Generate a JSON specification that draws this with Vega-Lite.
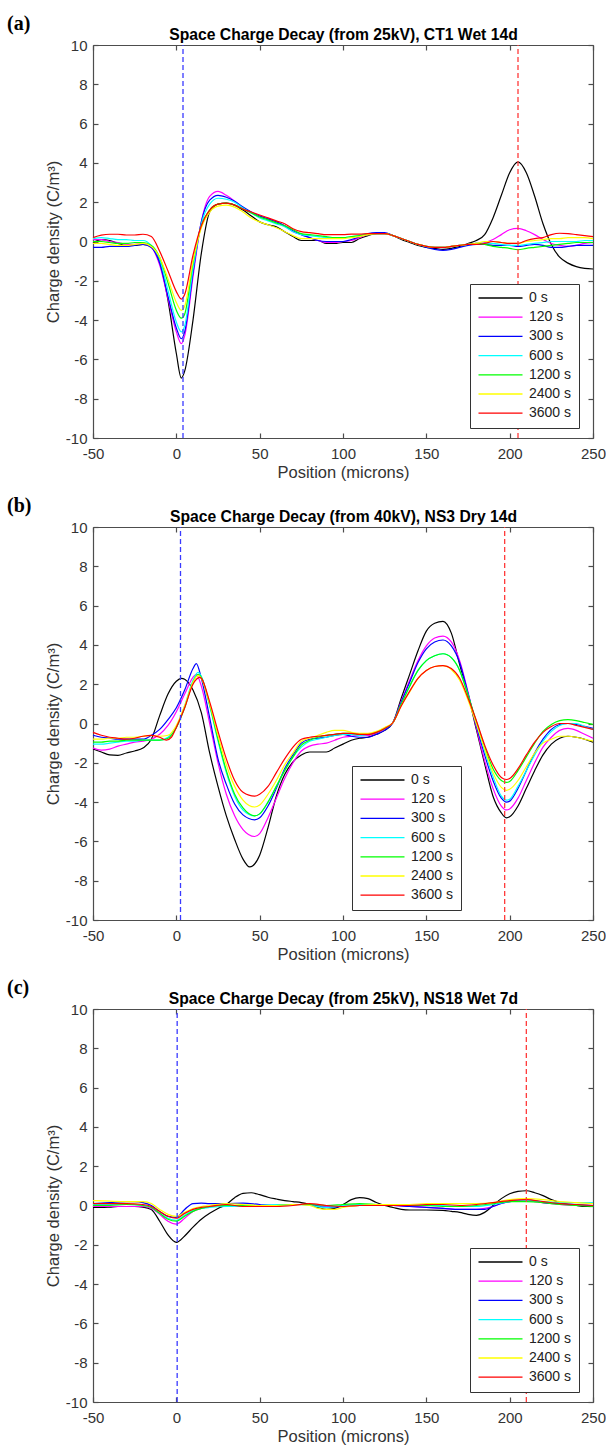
{
"$schema": "https://vega.github.io/schema/vega-lite/v6.json",
"background": "white",
"padding": {"left": 7, "top": 14, "right": 0, "bottom": 2},
"spacing": 89,
"bounds": "flush",
"config": {
  "font": "Liberation Sans",
  "view": {"stroke": null},
  "axis": {"grid": false, "labelFlush": false, "labelExpr": "replace(datum.label, '−', '-')", "domainColor": "#4d4d4d", "domainWidth": 1.2, "tickColor": "#4d4d4d", "tickWidth": 1.2, "tickSize": -5, "labelFont": "Liberation Sans", "labelFontSize": 15, "labelColor": "#333333", "titleFont": "Liberation Sans", "titleFontSize": 16.5, "titleFontWeight": "normal", "titleColor": "#333333"},
  "legend": {"orient": "none", "direction": "vertical", "fillColor": "white", "strokeColor": "#333333", "padding": 7, "symbolType": "M-1,0H7", "symbolSize": 121, "symbolStrokeWidth": 1.3, "labelFont": "Liberation Sans", "labelFontSize": 14, "labelColor": "#222222", "labelOffset": 38, "rowPadding": 5.2},
  "title": {"font": "Liberation Serif", "fontSize": 20, "fontWeight": "bold", "color": "black", "anchor": "start", "frame": "group", "dx": -86, "dy": 12, "offset": 0}
},
"datasets": {
"ea": [{"pos": 4, "e": "L"}, {"pos": 205, "e": "R"}],
"eb": [{"pos": 2.5, "e": "L"}, {"pos": 197, "e": "R"}],
"ec": [{"pos": 0.5, "e": "L"}, {"pos": 210, "e": "R"}],
"a": [
{"s":"0 s","x":-50,"y":-0.05},{"s":"0 s","x":-45,"y":0.1},{"s":"0 s","x":-40,"y":0.05},{"s":"0 s","x":-35,"y":-0.1},{"s":"0 s","x":-30,"y":-0.2},{"s":"0 s","x":-25,"y":-0.2},{"s":"0 s","x":-20,"y":-0.15},{"s":"0 s","x":-15,"y":-0.25},{"s":"0 s","x":-10,"y":-1.0},{"s":"0 s","x":-5,"y":-3.0},{"s":"0 s","x":0,"y":-5.7},{"s":"0 s","x":3,"y":-6.95},{"s":"0 s","x":5,"y":-6.6},{"s":"0 s","x":10,"y":-4.0},{"s":"0 s","x":15,"y":-0.6},{"s":"0 s","x":20,"y":1.5},{"s":"0 s","x":25,"y":1.9},{"s":"0 s","x":30,"y":1.95},{"s":"0 s","x":35,"y":1.85},{"s":"0 s","x":40,"y":1.6},{"s":"0 s","x":45,"y":1.3},{"s":"0 s","x":50,"y":1.0},{"s":"0 s","x":55,"y":0.85},{"s":"0 s","x":60,"y":0.75},{"s":"0 s","x":65,"y":0.5},{"s":"0 s","x":70,"y":0.25},{"s":"0 s","x":75,"y":0.05},{"s":"0 s","x":80,"y":0.05},{"s":"0 s","x":85,"y":0.05},{"s":"0 s","x":90,"y":-0.1},{"s":"0 s","x":95,"y":-0.1},{"s":"0 s","x":100,"y":-0.05},{"s":"0 s","x":105,"y":-0.05},{"s":"0 s","x":110,"y":0.15},{"s":"0 s","x":115,"y":0.3},{"s":"0 s","x":120,"y":0.4},{"s":"0 s","x":125,"y":0.4},{"s":"0 s","x":130,"y":0.3},{"s":"0 s","x":135,"y":0.1},{"s":"0 s","x":140,"y":-0.05},{"s":"0 s","x":145,"y":-0.2},{"s":"0 s","x":150,"y":-0.3},{"s":"0 s","x":155,"y":-0.35},{"s":"0 s","x":160,"y":-0.4},{"s":"0 s","x":165,"y":-0.35},{"s":"0 s","x":170,"y":-0.25},{"s":"0 s","x":175,"y":-0.1},{"s":"0 s","x":180,"y":0.05},{"s":"0 s","x":185,"y":0.35},{"s":"0 s","x":190,"y":1.2},{"s":"0 s","x":195,"y":2.35},{"s":"0 s","x":200,"y":3.5},{"s":"0 s","x":205,"y":4.05},{"s":"0 s","x":210,"y":3.5},{"s":"0 s","x":215,"y":2.3},{"s":"0 s","x":220,"y":0.9},{"s":"0 s","x":225,"y":-0.15},{"s":"0 s","x":230,"y":-0.8},{"s":"0 s","x":235,"y":-1.1},{"s":"0 s","x":240,"y":-1.28},{"s":"0 s","x":245,"y":-1.37},{"s":"0 s","x":250,"y":-1.4},
{"s":"120 s","x":-50,"y":0.1},{"s":"120 s","x":-45,"y":0.1},{"s":"120 s","x":-40,"y":0.0},{"s":"120 s","x":-35,"y":-0.05},{"s":"120 s","x":-30,"y":-0.15},{"s":"120 s","x":-25,"y":-0.15},{"s":"120 s","x":-20,"y":-0.1},{"s":"120 s","x":-15,"y":-0.3},{"s":"120 s","x":-10,"y":-1.2},{"s":"120 s","x":-5,"y":-2.9},{"s":"120 s","x":0,"y":-4.6},{"s":"120 s","x":3,"y":-5.2},{"s":"120 s","x":5,"y":-4.8},{"s":"120 s","x":10,"y":-1.8},{"s":"120 s","x":15,"y":1.0},{"s":"120 s","x":20,"y":2.3},{"s":"120 s","x":25,"y":2.55},{"s":"120 s","x":30,"y":2.35},{"s":"120 s","x":35,"y":2.05},{"s":"120 s","x":40,"y":1.7},{"s":"120 s","x":45,"y":1.45},{"s":"120 s","x":50,"y":1.3},{"s":"120 s","x":55,"y":1.15},{"s":"120 s","x":60,"y":1.0},{"s":"120 s","x":65,"y":0.8},{"s":"120 s","x":70,"y":0.5},{"s":"120 s","x":75,"y":0.35},{"s":"120 s","x":80,"y":0.2},{"s":"120 s","x":85,"y":0.05},{"s":"120 s","x":90,"y":-0.05},{"s":"120 s","x":95,"y":-0.05},{"s":"120 s","x":100,"y":0.0},{"s":"120 s","x":105,"y":0.05},{"s":"120 s","x":110,"y":0.2},{"s":"120 s","x":115,"y":0.35},{"s":"120 s","x":120,"y":0.4},{"s":"120 s","x":125,"y":0.4},{"s":"120 s","x":130,"y":0.3},{"s":"120 s","x":135,"y":0.15},{"s":"120 s","x":140,"y":0.0},{"s":"120 s","x":145,"y":-0.15},{"s":"120 s","x":150,"y":-0.25},{"s":"120 s","x":155,"y":-0.3},{"s":"120 s","x":160,"y":-0.3},{"s":"120 s","x":165,"y":-0.25},{"s":"120 s","x":170,"y":-0.2},{"s":"120 s","x":175,"y":-0.15},{"s":"120 s","x":180,"y":-0.1},{"s":"120 s","x":185,"y":-0.05},{"s":"120 s","x":190,"y":0.1},{"s":"120 s","x":195,"y":0.35},{"s":"120 s","x":200,"y":0.6},{"s":"120 s","x":205,"y":0.67},{"s":"120 s","x":210,"y":0.55},{"s":"120 s","x":215,"y":0.35},{"s":"120 s","x":220,"y":0.1},{"s":"120 s","x":225,"y":-0.1},{"s":"120 s","x":230,"y":-0.2},{"s":"120 s","x":235,"y":-0.25},{"s":"120 s","x":240,"y":-0.2},{"s":"120 s","x":245,"y":-0.1},{"s":"120 s","x":250,"y":-0.05},
{"s":"300 s","x":-50,"y":-0.3},{"s":"300 s","x":-45,"y":-0.3},{"s":"300 s","x":-40,"y":-0.25},{"s":"300 s","x":-35,"y":-0.25},{"s":"300 s","x":-30,"y":-0.25},{"s":"300 s","x":-25,"y":-0.2},{"s":"300 s","x":-20,"y":-0.15},{"s":"300 s","x":-15,"y":-0.3},{"s":"300 s","x":-10,"y":-1.1},{"s":"300 s","x":-5,"y":-2.8},{"s":"300 s","x":0,"y":-4.4},{"s":"300 s","x":3,"y":-4.95},{"s":"300 s","x":5,"y":-4.6},{"s":"300 s","x":10,"y":-1.6},{"s":"300 s","x":15,"y":1.0},{"s":"300 s","x":20,"y":2.1},{"s":"300 s","x":25,"y":2.35},{"s":"300 s","x":30,"y":2.25},{"s":"300 s","x":35,"y":2.05},{"s":"300 s","x":40,"y":1.75},{"s":"300 s","x":45,"y":1.5},{"s":"300 s","x":50,"y":1.3},{"s":"300 s","x":55,"y":1.15},{"s":"300 s","x":60,"y":1.0},{"s":"300 s","x":65,"y":0.8},{"s":"300 s","x":70,"y":0.55},{"s":"300 s","x":75,"y":0.35},{"s":"300 s","x":80,"y":0.2},{"s":"300 s","x":85,"y":0.05},{"s":"300 s","x":90,"y":0.0},{"s":"300 s","x":95,"y":0.0},{"s":"300 s","x":100,"y":0.0},{"s":"300 s","x":105,"y":0.1},{"s":"300 s","x":110,"y":0.25},{"s":"300 s","x":115,"y":0.4},{"s":"300 s","x":120,"y":0.45},{"s":"300 s","x":125,"y":0.45},{"s":"300 s","x":130,"y":0.3},{"s":"300 s","x":135,"y":0.15},{"s":"300 s","x":140,"y":0.0},{"s":"300 s","x":145,"y":-0.15},{"s":"300 s","x":150,"y":-0.3},{"s":"300 s","x":155,"y":-0.4},{"s":"300 s","x":160,"y":-0.45},{"s":"300 s","x":165,"y":-0.4},{"s":"300 s","x":170,"y":-0.3},{"s":"300 s","x":175,"y":-0.2},{"s":"300 s","x":180,"y":-0.15},{"s":"300 s","x":185,"y":-0.15},{"s":"300 s","x":190,"y":-0.2},{"s":"300 s","x":195,"y":-0.2},{"s":"300 s","x":200,"y":-0.2},{"s":"300 s","x":205,"y":-0.25},{"s":"300 s","x":210,"y":-0.2},{"s":"300 s","x":215,"y":-0.15},{"s":"300 s","x":220,"y":-0.2},{"s":"300 s","x":225,"y":-0.3},{"s":"300 s","x":230,"y":-0.3},{"s":"300 s","x":235,"y":-0.25},{"s":"300 s","x":240,"y":-0.2},{"s":"300 s","x":245,"y":-0.2},{"s":"300 s","x":250,"y":-0.2},
{"s":"600 s","x":-50,"y":0.15},{"s":"600 s","x":-45,"y":0.2},{"s":"600 s","x":-40,"y":0.15},{"s":"600 s","x":-35,"y":0.1},{"s":"600 s","x":-30,"y":0.1},{"s":"600 s","x":-25,"y":0.05},{"s":"600 s","x":-20,"y":0.05},{"s":"600 s","x":-15,"y":-0.2},{"s":"600 s","x":-10,"y":-0.9},{"s":"600 s","x":-5,"y":-2.5},{"s":"600 s","x":0,"y":-4.1},{"s":"600 s","x":3,"y":-4.6},{"s":"600 s","x":5,"y":-4.3},{"s":"600 s","x":10,"y":-1.4},{"s":"600 s","x":15,"y":0.9},{"s":"600 s","x":20,"y":1.9},{"s":"600 s","x":25,"y":2.2},{"s":"600 s","x":30,"y":2.15},{"s":"600 s","x":35,"y":2.0},{"s":"600 s","x":40,"y":1.7},{"s":"600 s","x":45,"y":1.45},{"s":"600 s","x":50,"y":1.2},{"s":"600 s","x":55,"y":1.05},{"s":"600 s","x":60,"y":0.9},{"s":"600 s","x":65,"y":0.75},{"s":"600 s","x":70,"y":0.5},{"s":"600 s","x":75,"y":0.35},{"s":"600 s","x":80,"y":0.3},{"s":"600 s","x":85,"y":0.25},{"s":"600 s","x":90,"y":0.2},{"s":"600 s","x":95,"y":0.2},{"s":"600 s","x":100,"y":0.2},{"s":"600 s","x":105,"y":0.25},{"s":"600 s","x":110,"y":0.3},{"s":"600 s","x":115,"y":0.4},{"s":"600 s","x":120,"y":0.4},{"s":"600 s","x":125,"y":0.4},{"s":"600 s","x":130,"y":0.3},{"s":"600 s","x":135,"y":0.15},{"s":"600 s","x":140,"y":0.0},{"s":"600 s","x":145,"y":-0.15},{"s":"600 s","x":150,"y":-0.25},{"s":"600 s","x":155,"y":-0.3},{"s":"600 s","x":160,"y":-0.3},{"s":"600 s","x":165,"y":-0.25},{"s":"600 s","x":170,"y":-0.2},{"s":"600 s","x":175,"y":-0.15},{"s":"600 s","x":180,"y":-0.1},{"s":"600 s","x":185,"y":-0.1},{"s":"600 s","x":190,"y":-0.1},{"s":"600 s","x":195,"y":-0.15},{"s":"600 s","x":200,"y":-0.2},{"s":"600 s","x":205,"y":-0.2},{"s":"600 s","x":210,"y":-0.15},{"s":"600 s","x":215,"y":-0.1},{"s":"600 s","x":220,"y":-0.05},{"s":"600 s","x":225,"y":0.0},{"s":"600 s","x":230,"y":0.0},{"s":"600 s","x":235,"y":0.0},{"s":"600 s","x":240,"y":0.0},{"s":"600 s","x":245,"y":0.05},{"s":"600 s","x":250,"y":0.05},
{"s":"1200 s","x":-50,"y":0.0},{"s":"1200 s","x":-45,"y":0.0},{"s":"1200 s","x":-40,"y":-0.05},{"s":"1200 s","x":-35,"y":-0.1},{"s":"1200 s","x":-30,"y":-0.1},{"s":"1200 s","x":-25,"y":-0.05},{"s":"1200 s","x":-20,"y":-0.05},{"s":"1200 s","x":-15,"y":-0.2},{"s":"1200 s","x":-10,"y":-0.8},{"s":"1200 s","x":-5,"y":-2.1},{"s":"1200 s","x":0,"y":-3.5},{"s":"1200 s","x":3,"y":-3.9},{"s":"1200 s","x":5,"y":-3.7},{"s":"1200 s","x":10,"y":-1.1},{"s":"1200 s","x":15,"y":0.8},{"s":"1200 s","x":20,"y":1.6},{"s":"1200 s","x":25,"y":1.9},{"s":"1200 s","x":30,"y":1.95},{"s":"1200 s","x":35,"y":1.85},{"s":"1200 s","x":40,"y":1.65},{"s":"1200 s","x":45,"y":1.45},{"s":"1200 s","x":50,"y":1.25},{"s":"1200 s","x":55,"y":1.1},{"s":"1200 s","x":60,"y":0.95},{"s":"1200 s","x":65,"y":0.8},{"s":"1200 s","x":70,"y":0.6},{"s":"1200 s","x":75,"y":0.4},{"s":"1200 s","x":80,"y":0.35},{"s":"1200 s","x":85,"y":0.3},{"s":"1200 s","x":90,"y":0.25},{"s":"1200 s","x":95,"y":0.2},{"s":"1200 s","x":100,"y":0.2},{"s":"1200 s","x":105,"y":0.25},{"s":"1200 s","x":110,"y":0.3},{"s":"1200 s","x":115,"y":0.35},{"s":"1200 s","x":120,"y":0.4},{"s":"1200 s","x":125,"y":0.4},{"s":"1200 s","x":130,"y":0.3},{"s":"1200 s","x":135,"y":0.15},{"s":"1200 s","x":140,"y":0.0},{"s":"1200 s","x":145,"y":-0.15},{"s":"1200 s","x":150,"y":-0.25},{"s":"1200 s","x":155,"y":-0.3},{"s":"1200 s","x":160,"y":-0.3},{"s":"1200 s","x":165,"y":-0.25},{"s":"1200 s","x":170,"y":-0.2},{"s":"1200 s","x":175,"y":-0.15},{"s":"1200 s","x":180,"y":-0.1},{"s":"1200 s","x":185,"y":-0.15},{"s":"1200 s","x":190,"y":-0.25},{"s":"1200 s","x":195,"y":-0.3},{"s":"1200 s","x":200,"y":-0.35},{"s":"1200 s","x":205,"y":-0.42},{"s":"1200 s","x":210,"y":-0.35},{"s":"1200 s","x":215,"y":-0.3},{"s":"1200 s","x":220,"y":-0.25},{"s":"1200 s","x":225,"y":-0.2},{"s":"1200 s","x":230,"y":-0.15},{"s":"1200 s","x":235,"y":-0.1},{"s":"1200 s","x":240,"y":-0.05},{"s":"1200 s","x":245,"y":-0.05},{"s":"1200 s","x":250,"y":-0.05},
{"s":"2400 s","x":-50,"y":-0.1},{"s":"2400 s","x":-45,"y":-0.1},{"s":"2400 s","x":-40,"y":-0.15},{"s":"2400 s","x":-35,"y":-0.2},{"s":"2400 s","x":-30,"y":-0.2},{"s":"2400 s","x":-25,"y":-0.15},{"s":"2400 s","x":-20,"y":-0.1},{"s":"2400 s","x":-15,"y":-0.25},{"s":"2400 s","x":-10,"y":-0.8},{"s":"2400 s","x":-5,"y":-1.9},{"s":"2400 s","x":0,"y":-3.1},{"s":"2400 s","x":3,"y":-3.5},{"s":"2400 s","x":5,"y":-3.3},{"s":"2400 s","x":10,"y":-1.0},{"s":"2400 s","x":15,"y":0.7},{"s":"2400 s","x":20,"y":1.5},{"s":"2400 s","x":25,"y":1.8},{"s":"2400 s","x":30,"y":1.85},{"s":"2400 s","x":35,"y":1.75},{"s":"2400 s","x":40,"y":1.5},{"s":"2400 s","x":45,"y":1.2},{"s":"2400 s","x":50,"y":1.0},{"s":"2400 s","x":55,"y":0.85},{"s":"2400 s","x":60,"y":0.7},{"s":"2400 s","x":65,"y":0.5},{"s":"2400 s","x":70,"y":0.3},{"s":"2400 s","x":75,"y":0.15},{"s":"2400 s","x":80,"y":0.15},{"s":"2400 s","x":85,"y":0.15},{"s":"2400 s","x":90,"y":0.15},{"s":"2400 s","x":95,"y":0.15},{"s":"2400 s","x":100,"y":0.15},{"s":"2400 s","x":105,"y":0.2},{"s":"2400 s","x":110,"y":0.25},{"s":"2400 s","x":115,"y":0.35},{"s":"2400 s","x":120,"y":0.4},{"s":"2400 s","x":125,"y":0.4},{"s":"2400 s","x":130,"y":0.3},{"s":"2400 s","x":135,"y":0.15},{"s":"2400 s","x":140,"y":0.0},{"s":"2400 s","x":145,"y":-0.15},{"s":"2400 s","x":150,"y":-0.25},{"s":"2400 s","x":155,"y":-0.3},{"s":"2400 s","x":160,"y":-0.3},{"s":"2400 s","x":165,"y":-0.25},{"s":"2400 s","x":170,"y":-0.2},{"s":"2400 s","x":175,"y":-0.15},{"s":"2400 s","x":180,"y":-0.1},{"s":"2400 s","x":185,"y":0.0},{"s":"2400 s","x":190,"y":0.0},{"s":"2400 s","x":195,"y":-0.05},{"s":"2400 s","x":200,"y":-0.1},{"s":"2400 s","x":205,"y":-0.1},{"s":"2400 s","x":210,"y":0.0},{"s":"2400 s","x":215,"y":0.05},{"s":"2400 s","x":220,"y":0.1},{"s":"2400 s","x":225,"y":0.15},{"s":"2400 s","x":230,"y":0.15},{"s":"2400 s","x":235,"y":0.2},{"s":"2400 s","x":240,"y":0.2},{"s":"2400 s","x":245,"y":0.2},{"s":"2400 s","x":250,"y":0.15},
{"s":"3600 s","x":-50,"y":0.2},{"s":"3600 s","x":-45,"y":0.32},{"s":"3600 s","x":-40,"y":0.37},{"s":"3600 s","x":-35,"y":0.37},{"s":"3600 s","x":-30,"y":0.33},{"s":"3600 s","x":-25,"y":0.33},{"s":"3600 s","x":-20,"y":0.37},{"s":"3600 s","x":-15,"y":0.25},{"s":"3600 s","x":-10,"y":-0.5},{"s":"3600 s","x":-5,"y":-1.5},{"s":"3600 s","x":0,"y":-2.55},{"s":"3600 s","x":3,"y":-2.93},{"s":"3600 s","x":5,"y":-2.7},{"s":"3600 s","x":10,"y":-0.7},{"s":"3600 s","x":15,"y":0.8},{"s":"3600 s","x":20,"y":1.6},{"s":"3600 s","x":25,"y":1.9},{"s":"3600 s","x":30,"y":1.95},{"s":"3600 s","x":35,"y":1.85},{"s":"3600 s","x":40,"y":1.65},{"s":"3600 s","x":45,"y":1.5},{"s":"3600 s","x":50,"y":1.35},{"s":"3600 s","x":55,"y":1.2},{"s":"3600 s","x":60,"y":1.05},{"s":"3600 s","x":65,"y":0.9},{"s":"3600 s","x":70,"y":0.65},{"s":"3600 s","x":75,"y":0.5},{"s":"3600 s","x":80,"y":0.45},{"s":"3600 s","x":85,"y":0.4},{"s":"3600 s","x":90,"y":0.35},{"s":"3600 s","x":95,"y":0.35},{"s":"3600 s","x":100,"y":0.35},{"s":"3600 s","x":105,"y":0.38},{"s":"3600 s","x":110,"y":0.38},{"s":"3600 s","x":115,"y":0.4},{"s":"3600 s","x":120,"y":0.4},{"s":"3600 s","x":125,"y":0.4},{"s":"3600 s","x":130,"y":0.3},{"s":"3600 s","x":135,"y":0.15},{"s":"3600 s","x":140,"y":0.0},{"s":"3600 s","x":145,"y":-0.15},{"s":"3600 s","x":150,"y":-0.25},{"s":"3600 s","x":155,"y":-0.3},{"s":"3600 s","x":160,"y":-0.3},{"s":"3600 s","x":165,"y":-0.25},{"s":"3600 s","x":170,"y":-0.2},{"s":"3600 s","x":175,"y":-0.15},{"s":"3600 s","x":180,"y":-0.15},{"s":"3600 s","x":185,"y":-0.1},{"s":"3600 s","x":190,"y":0.0},{"s":"3600 s","x":195,"y":-0.05},{"s":"3600 s","x":200,"y":-0.1},{"s":"3600 s","x":205,"y":-0.1},{"s":"3600 s","x":210,"y":0.05},{"s":"3600 s","x":215,"y":0.15},{"s":"3600 s","x":220,"y":0.2},{"s":"3600 s","x":225,"y":0.35},{"s":"3600 s","x":230,"y":0.42},{"s":"3600 s","x":235,"y":0.4},{"s":"3600 s","x":240,"y":0.35},{"s":"3600 s","x":245,"y":0.3},{"s":"3600 s","x":250,"y":0.25}
],
"b": [
{"s":"0 s","x":-50,"y":-1.3},{"s":"0 s","x":-45,"y":-1.45},{"s":"0 s","x":-40,"y":-1.6},{"s":"0 s","x":-35,"y":-1.62},{"s":"0 s","x":-30,"y":-1.5},{"s":"0 s","x":-25,"y":-1.4},{"s":"0 s","x":-20,"y":-1.25},{"s":"0 s","x":-15,"y":-0.8},{"s":"0 s","x":-10,"y":0.4},{"s":"0 s","x":-5,"y":1.5},{"s":"0 s","x":0,"y":2.15},{"s":"0 s","x":3,"y":2.3},{"s":"0 s","x":5,"y":2.25},{"s":"0 s","x":10,"y":1.7},{"s":"0 s","x":15,"y":0.55},{"s":"0 s","x":20,"y":-1.5},{"s":"0 s","x":25,"y":-3.2},{"s":"0 s","x":30,"y":-4.7},{"s":"0 s","x":35,"y":-5.9},{"s":"0 s","x":40,"y":-6.9},{"s":"0 s","x":44,"y":-7.3},{"s":"0 s","x":50,"y":-6.7},{"s":"0 s","x":55,"y":-5.3},{"s":"0 s","x":60,"y":-3.7},{"s":"0 s","x":65,"y":-2.6},{"s":"0 s","x":70,"y":-1.95},{"s":"0 s","x":75,"y":-1.6},{"s":"0 s","x":80,"y":-1.45},{"s":"0 s","x":85,"y":-1.45},{"s":"0 s","x":90,"y":-1.45},{"s":"0 s","x":95,"y":-1.25},{"s":"0 s","x":100,"y":-1.05},{"s":"0 s","x":105,"y":-0.85},{"s":"0 s","x":110,"y":-0.75},{"s":"0 s","x":115,"y":-0.7},{"s":"0 s","x":120,"y":-0.55},{"s":"0 s","x":125,"y":-0.35},{"s":"0 s","x":130,"y":0.05},{"s":"0 s","x":135,"y":1.3},{"s":"0 s","x":140,"y":2.5},{"s":"0 s","x":145,"y":3.7},{"s":"0 s","x":150,"y":4.7},{"s":"0 s","x":155,"y":5.1},{"s":"0 s","x":160,"y":5.2},{"s":"0 s","x":165,"y":4.6},{"s":"0 s","x":170,"y":3.0},{"s":"0 s","x":175,"y":1.5},{"s":"0 s","x":180,"y":-0.3},{"s":"0 s","x":185,"y":-2.05},{"s":"0 s","x":190,"y":-3.7},{"s":"0 s","x":195,"y":-4.55},{"s":"0 s","x":198,"y":-4.8},{"s":"0 s","x":200,"y":-4.75},{"s":"0 s","x":205,"y":-4.2},{"s":"0 s","x":210,"y":-3.3},{"s":"0 s","x":215,"y":-2.4},{"s":"0 s","x":220,"y":-1.6},{"s":"0 s","x":225,"y":-1.05},{"s":"0 s","x":230,"y":-0.75},{"s":"0 s","x":235,"y":-0.65},{"s":"0 s","x":240,"y":-0.7},{"s":"0 s","x":245,"y":-0.8},{"s":"0 s","x":250,"y":-0.95},
{"s":"120 s","x":-50,"y":-1.25},{"s":"120 s","x":-45,"y":-1.35},{"s":"120 s","x":-40,"y":-1.3},{"s":"120 s","x":-35,"y":-1.15},{"s":"120 s","x":-30,"y":-1.05},{"s":"120 s","x":-25,"y":-0.95},{"s":"120 s","x":-20,"y":-0.9},{"s":"120 s","x":-15,"y":-0.8},{"s":"120 s","x":-10,"y":-0.55},{"s":"120 s","x":-5,"y":-0.1},{"s":"120 s","x":0,"y":0.6},{"s":"120 s","x":5,"y":1.5},{"s":"120 s","x":10,"y":2.35},{"s":"120 s","x":12,"y":2.5},{"s":"120 s","x":15,"y":1.9},{"s":"120 s","x":20,"y":0.0},{"s":"120 s","x":25,"y":-2.0},{"s":"120 s","x":30,"y":-3.6},{"s":"120 s","x":35,"y":-4.7},{"s":"120 s","x":40,"y":-5.4},{"s":"120 s","x":47,"y":-5.75},{"s":"120 s","x":50,"y":-5.6},{"s":"120 s","x":55,"y":-4.8},{"s":"120 s","x":60,"y":-3.8},{"s":"120 s","x":65,"y":-2.8},{"s":"120 s","x":70,"y":-2.0},{"s":"120 s","x":75,"y":-1.4},{"s":"120 s","x":80,"y":-1.15},{"s":"120 s","x":85,"y":-1.05},{"s":"120 s","x":90,"y":-1.0},{"s":"120 s","x":95,"y":-0.85},{"s":"120 s","x":100,"y":-0.7},{"s":"120 s","x":105,"y":-0.65},{"s":"120 s","x":110,"y":-0.6},{"s":"120 s","x":115,"y":-0.6},{"s":"120 s","x":120,"y":-0.5},{"s":"120 s","x":125,"y":-0.3},{"s":"120 s","x":130,"y":0.05},{"s":"120 s","x":135,"y":1.15},{"s":"120 s","x":140,"y":2.2},{"s":"120 s","x":145,"y":3.2},{"s":"120 s","x":150,"y":3.95},{"s":"120 s","x":155,"y":4.35},{"s":"120 s","x":160,"y":4.45},{"s":"120 s","x":165,"y":4.15},{"s":"120 s","x":170,"y":3.2},{"s":"120 s","x":175,"y":1.6},{"s":"120 s","x":180,"y":-0.2},{"s":"120 s","x":185,"y":-1.9},{"s":"120 s","x":190,"y":-3.3},{"s":"120 s","x":195,"y":-4.2},{"s":"120 s","x":198,"y":-4.4},{"s":"120 s","x":200,"y":-4.35},{"s":"120 s","x":205,"y":-3.8},{"s":"120 s","x":210,"y":-2.9},{"s":"120 s","x":215,"y":-2.0},{"s":"120 s","x":220,"y":-1.2},{"s":"120 s","x":225,"y":-0.7},{"s":"120 s","x":230,"y":-0.35},{"s":"120 s","x":235,"y":-0.25},{"s":"120 s","x":240,"y":-0.35},{"s":"120 s","x":245,"y":-0.55},{"s":"120 s","x":250,"y":-0.75},
{"s":"300 s","x":-50,"y":-0.6},{"s":"300 s","x":-45,"y":-0.7},{"s":"300 s","x":-40,"y":-0.75},{"s":"300 s","x":-35,"y":-0.8},{"s":"300 s","x":-30,"y":-0.8},{"s":"300 s","x":-25,"y":-0.8},{"s":"300 s","x":-20,"y":-0.8},{"s":"300 s","x":-15,"y":-0.6},{"s":"300 s","x":-10,"y":-0.3},{"s":"300 s","x":-5,"y":0.2},{"s":"300 s","x":0,"y":0.8},{"s":"300 s","x":5,"y":1.7},{"s":"300 s","x":10,"y":2.8},{"s":"300 s","x":12,"y":3.05},{"s":"300 s","x":15,"y":2.3},{"s":"300 s","x":20,"y":0.3},{"s":"300 s","x":25,"y":-1.8},{"s":"300 s","x":30,"y":-3.1},{"s":"300 s","x":35,"y":-4.1},{"s":"300 s","x":40,"y":-4.65},{"s":"300 s","x":47,"y":-4.9},{"s":"300 s","x":50,"y":-4.8},{"s":"300 s","x":55,"y":-4.2},{"s":"300 s","x":60,"y":-3.3},{"s":"300 s","x":65,"y":-2.3},{"s":"300 s","x":70,"y":-1.6},{"s":"300 s","x":75,"y":-1.0},{"s":"300 s","x":80,"y":-0.8},{"s":"300 s","x":85,"y":-0.75},{"s":"300 s","x":90,"y":-0.7},{"s":"300 s","x":95,"y":-0.6},{"s":"300 s","x":100,"y":-0.55},{"s":"300 s","x":105,"y":-0.65},{"s":"300 s","x":110,"y":-0.7},{"s":"300 s","x":115,"y":-0.7},{"s":"300 s","x":120,"y":-0.55},{"s":"300 s","x":125,"y":-0.35},{"s":"300 s","x":130,"y":0.05},{"s":"300 s","x":135,"y":1.1},{"s":"300 s","x":140,"y":2.1},{"s":"300 s","x":145,"y":3.1},{"s":"300 s","x":150,"y":3.8},{"s":"300 s","x":155,"y":4.15},{"s":"300 s","x":160,"y":4.25},{"s":"300 s","x":165,"y":3.95},{"s":"300 s","x":170,"y":3.1},{"s":"300 s","x":175,"y":1.55},{"s":"300 s","x":180,"y":-0.1},{"s":"300 s","x":185,"y":-1.6},{"s":"300 s","x":190,"y":-2.9},{"s":"300 s","x":195,"y":-3.8},{"s":"300 s","x":198,"y":-4.0},{"s":"300 s","x":200,"y":-3.95},{"s":"300 s","x":205,"y":-3.3},{"s":"300 s","x":210,"y":-2.4},{"s":"300 s","x":215,"y":-1.5},{"s":"300 s","x":220,"y":-0.8},{"s":"300 s","x":225,"y":-0.3},{"s":"300 s","x":230,"y":-0.05},{"s":"300 s","x":235,"y":0.0},{"s":"300 s","x":240,"y":-0.05},{"s":"300 s","x":245,"y":-0.15},{"s":"300 s","x":250,"y":-0.25},
{"s":"600 s","x":-50,"y":-1.05},{"s":"600 s","x":-45,"y":-1.05},{"s":"600 s","x":-40,"y":-1.0},{"s":"600 s","x":-35,"y":-0.95},{"s":"600 s","x":-30,"y":-0.9},{"s":"600 s","x":-25,"y":-0.9},{"s":"600 s","x":-20,"y":-0.85},{"s":"600 s","x":-15,"y":-0.85},{"s":"600 s","x":-10,"y":-0.85},{"s":"600 s","x":-5,"y":-0.7},{"s":"600 s","x":0,"y":-0.2},{"s":"600 s","x":5,"y":0.9},{"s":"600 s","x":10,"y":2.2},{"s":"600 s","x":13,"y":2.6},{"s":"600 s","x":15,"y":2.4},{"s":"600 s","x":20,"y":0.9},{"s":"600 s","x":25,"y":-0.9},{"s":"600 s","x":30,"y":-2.5},{"s":"600 s","x":35,"y":-3.7},{"s":"600 s","x":40,"y":-4.4},{"s":"600 s","x":47,"y":-4.7},{"s":"600 s","x":50,"y":-4.6},{"s":"600 s","x":55,"y":-4.0},{"s":"600 s","x":60,"y":-3.2},{"s":"600 s","x":65,"y":-2.4},{"s":"600 s","x":70,"y":-1.7},{"s":"600 s","x":75,"y":-1.2},{"s":"600 s","x":80,"y":-0.9},{"s":"600 s","x":85,"y":-0.8},{"s":"600 s","x":90,"y":-0.7},{"s":"600 s","x":95,"y":-0.6},{"s":"600 s","x":100,"y":-0.55},{"s":"600 s","x":105,"y":-0.55},{"s":"600 s","x":110,"y":-0.6},{"s":"600 s","x":115,"y":-0.55},{"s":"600 s","x":120,"y":-0.45},{"s":"600 s","x":125,"y":-0.25},{"s":"600 s","x":130,"y":0.05},{"s":"600 s","x":135,"y":1.0},{"s":"600 s","x":140,"y":1.9},{"s":"600 s","x":145,"y":2.7},{"s":"600 s","x":150,"y":3.2},{"s":"600 s","x":155,"y":3.45},{"s":"600 s","x":160,"y":3.55},{"s":"600 s","x":165,"y":3.35},{"s":"600 s","x":170,"y":2.7},{"s":"600 s","x":175,"y":1.45},{"s":"600 s","x":180,"y":0.0},{"s":"600 s","x":185,"y":-1.4},{"s":"600 s","x":190,"y":-2.7},{"s":"600 s","x":195,"y":-3.7},{"s":"600 s","x":198,"y":-3.9},{"s":"600 s","x":200,"y":-3.85},{"s":"600 s","x":205,"y":-3.2},{"s":"600 s","x":210,"y":-2.4},{"s":"600 s","x":215,"y":-1.6},{"s":"600 s","x":220,"y":-0.9},{"s":"600 s","x":225,"y":-0.4},{"s":"600 s","x":230,"y":-0.1},{"s":"600 s","x":235,"y":0.0},{"s":"600 s","x":240,"y":0.0},{"s":"600 s","x":245,"y":-0.15},{"s":"600 s","x":250,"y":-0.3},
{"s":"1200 s","x":-50,"y":-0.95},{"s":"1200 s","x":-45,"y":-0.95},{"s":"1200 s","x":-40,"y":-0.9},{"s":"1200 s","x":-35,"y":-0.9},{"s":"1200 s","x":-30,"y":-0.85},{"s":"1200 s","x":-25,"y":-0.85},{"s":"1200 s","x":-20,"y":-0.85},{"s":"1200 s","x":-15,"y":-0.85},{"s":"1200 s","x":-10,"y":-0.85},{"s":"1200 s","x":-5,"y":-0.75},{"s":"1200 s","x":0,"y":-0.2},{"s":"1200 s","x":5,"y":0.8},{"s":"1200 s","x":10,"y":2.1},{"s":"1200 s","x":13,"y":2.5},{"s":"1200 s","x":15,"y":2.35},{"s":"1200 s","x":20,"y":0.95},{"s":"1200 s","x":25,"y":-0.8},{"s":"1200 s","x":30,"y":-2.4},{"s":"1200 s","x":35,"y":-3.6},{"s":"1200 s","x":40,"y":-4.3},{"s":"1200 s","x":47,"y":-4.7},{"s":"1200 s","x":50,"y":-4.6},{"s":"1200 s","x":55,"y":-4.0},{"s":"1200 s","x":60,"y":-3.2},{"s":"1200 s","x":65,"y":-2.4},{"s":"1200 s","x":70,"y":-1.7},{"s":"1200 s","x":75,"y":-1.1},{"s":"1200 s","x":80,"y":-0.85},{"s":"1200 s","x":85,"y":-0.7},{"s":"1200 s","x":90,"y":-0.6},{"s":"1200 s","x":95,"y":-0.55},{"s":"1200 s","x":100,"y":-0.5},{"s":"1200 s","x":105,"y":-0.5},{"s":"1200 s","x":110,"y":-0.55},{"s":"1200 s","x":115,"y":-0.55},{"s":"1200 s","x":120,"y":-0.45},{"s":"1200 s","x":125,"y":-0.25},{"s":"1200 s","x":130,"y":0.05},{"s":"1200 s","x":135,"y":1.0},{"s":"1200 s","x":140,"y":1.9},{"s":"1200 s","x":145,"y":2.7},{"s":"1200 s","x":150,"y":3.2},{"s":"1200 s","x":155,"y":3.45},{"s":"1200 s","x":160,"y":3.55},{"s":"1200 s","x":165,"y":3.35},{"s":"1200 s","x":170,"y":2.7},{"s":"1200 s","x":175,"y":1.45},{"s":"1200 s","x":180,"y":0.1},{"s":"1200 s","x":185,"y":-1.2},{"s":"1200 s","x":190,"y":-2.3},{"s":"1200 s","x":195,"y":-2.9},{"s":"1200 s","x":198,"y":-3.0},{"s":"1200 s","x":200,"y":-2.95},{"s":"1200 s","x":205,"y":-2.4},{"s":"1200 s","x":210,"y":-1.7},{"s":"1200 s","x":215,"y":-1.0},{"s":"1200 s","x":220,"y":-0.4},{"s":"1200 s","x":225,"y":-0.05},{"s":"1200 s","x":230,"y":0.15},{"s":"1200 s","x":235,"y":0.2},{"s":"1200 s","x":240,"y":0.15},{"s":"1200 s","x":245,"y":0.05},{"s":"1200 s","x":250,"y":-0.05},
{"s":"2400 s","x":-50,"y":-0.8},{"s":"2400 s","x":-45,"y":-0.8},{"s":"2400 s","x":-40,"y":-0.75},{"s":"2400 s","x":-35,"y":-0.75},{"s":"2400 s","x":-30,"y":-0.7},{"s":"2400 s","x":-25,"y":-0.7},{"s":"2400 s","x":-20,"y":-0.65},{"s":"2400 s","x":-15,"y":-0.6},{"s":"2400 s","x":-10,"y":-0.65},{"s":"2400 s","x":-5,"y":-0.6},{"s":"2400 s","x":0,"y":-0.1},{"s":"2400 s","x":5,"y":0.9},{"s":"2400 s","x":10,"y":2.1},{"s":"2400 s","x":13,"y":2.45},{"s":"2400 s","x":15,"y":2.3},{"s":"2400 s","x":20,"y":1.0},{"s":"2400 s","x":25,"y":-0.6},{"s":"2400 s","x":30,"y":-2.1},{"s":"2400 s","x":35,"y":-3.2},{"s":"2400 s","x":40,"y":-3.9},{"s":"2400 s","x":47,"y":-4.25},{"s":"2400 s","x":50,"y":-4.15},{"s":"2400 s","x":55,"y":-3.6},{"s":"2400 s","x":60,"y":-2.9},{"s":"2400 s","x":65,"y":-2.1},{"s":"2400 s","x":70,"y":-1.5},{"s":"2400 s","x":75,"y":-0.9},{"s":"2400 s","x":80,"y":-0.75},{"s":"2400 s","x":85,"y":-0.6},{"s":"2400 s","x":90,"y":-0.45},{"s":"2400 s","x":95,"y":-0.35},{"s":"2400 s","x":100,"y":-0.35},{"s":"2400 s","x":105,"y":-0.45},{"s":"2400 s","x":110,"y":-0.5},{"s":"2400 s","x":115,"y":-0.5},{"s":"2400 s","x":120,"y":-0.4},{"s":"2400 s","x":125,"y":-0.2},{"s":"2400 s","x":130,"y":0.05},{"s":"2400 s","x":135,"y":0.9},{"s":"2400 s","x":140,"y":1.6},{"s":"2400 s","x":145,"y":2.3},{"s":"2400 s","x":150,"y":2.7},{"s":"2400 s","x":155,"y":2.9},{"s":"2400 s","x":160,"y":2.95},{"s":"2400 s","x":165,"y":2.75},{"s":"2400 s","x":170,"y":2.2},{"s":"2400 s","x":175,"y":1.2},{"s":"2400 s","x":180,"y":0.0},{"s":"2400 s","x":185,"y":-1.3},{"s":"2400 s","x":190,"y":-2.5},{"s":"2400 s","x":195,"y":-3.25},{"s":"2400 s","x":198,"y":-3.4},{"s":"2400 s","x":200,"y":-3.35},{"s":"2400 s","x":205,"y":-2.9},{"s":"2400 s","x":210,"y":-2.2},{"s":"2400 s","x":215,"y":-1.5},{"s":"2400 s","x":220,"y":-1.0},{"s":"2400 s","x":225,"y":-0.8},{"s":"2400 s","x":230,"y":-0.65},{"s":"2400 s","x":235,"y":-0.65},{"s":"2400 s","x":240,"y":-0.7},{"s":"2400 s","x":245,"y":-0.8},{"s":"2400 s","x":250,"y":-0.9},
{"s":"3600 s","x":-50,"y":-0.45},{"s":"3600 s","x":-45,"y":-0.6},{"s":"3600 s","x":-40,"y":-0.7},{"s":"3600 s","x":-35,"y":-0.75},{"s":"3600 s","x":-30,"y":-0.8},{"s":"3600 s","x":-25,"y":-0.75},{"s":"3600 s","x":-20,"y":-0.65},{"s":"3600 s","x":-15,"y":-0.6},{"s":"3600 s","x":-10,"y":-0.7},{"s":"3600 s","x":-6,"y":-0.85},{"s":"3600 s","x":-3,"y":-0.7},{"s":"3600 s","x":0,"y":-0.2},{"s":"3600 s","x":5,"y":0.8},{"s":"3600 s","x":10,"y":2.0},{"s":"3600 s","x":14,"y":2.35},{"s":"3600 s","x":15,"y":2.3},{"s":"3600 s","x":20,"y":1.1},{"s":"3600 s","x":25,"y":-0.4},{"s":"3600 s","x":30,"y":-1.8},{"s":"3600 s","x":35,"y":-2.9},{"s":"3600 s","x":40,"y":-3.5},{"s":"3600 s","x":47,"y":-3.7},{"s":"3600 s","x":50,"y":-3.6},{"s":"3600 s","x":55,"y":-3.2},{"s":"3600 s","x":60,"y":-2.5},{"s":"3600 s","x":65,"y":-1.8},{"s":"3600 s","x":70,"y":-1.2},{"s":"3600 s","x":75,"y":-0.8},{"s":"3600 s","x":80,"y":-0.7},{"s":"3600 s","x":85,"y":-0.65},{"s":"3600 s","x":90,"y":-0.6},{"s":"3600 s","x":95,"y":-0.55},{"s":"3600 s","x":100,"y":-0.5},{"s":"3600 s","x":105,"y":-0.5},{"s":"3600 s","x":110,"y":-0.55},{"s":"3600 s","x":115,"y":-0.55},{"s":"3600 s","x":120,"y":-0.45},{"s":"3600 s","x":125,"y":-0.25},{"s":"3600 s","x":130,"y":0.05},{"s":"3600 s","x":135,"y":0.9},{"s":"3600 s","x":140,"y":1.65},{"s":"3600 s","x":145,"y":2.3},{"s":"3600 s","x":150,"y":2.7},{"s":"3600 s","x":155,"y":2.9},{"s":"3600 s","x":160,"y":2.95},{"s":"3600 s","x":165,"y":2.8},{"s":"3600 s","x":170,"y":2.3},{"s":"3600 s","x":175,"y":1.3},{"s":"3600 s","x":180,"y":0.15},{"s":"3600 s","x":185,"y":-1.1},{"s":"3600 s","x":190,"y":-2.1},{"s":"3600 s","x":195,"y":-2.75},{"s":"3600 s","x":198,"y":-2.85},{"s":"3600 s","x":200,"y":-2.8},{"s":"3600 s","x":205,"y":-2.3},{"s":"3600 s","x":210,"y":-1.6},{"s":"3600 s","x":215,"y":-0.95},{"s":"3600 s","x":220,"y":-0.45},{"s":"3600 s","x":225,"y":-0.15},{"s":"3600 s","x":230,"y":0.0},{"s":"3600 s","x":235,"y":0.0},{"s":"3600 s","x":240,"y":-0.1},{"s":"3600 s","x":245,"y":-0.2},{"s":"3600 s","x":250,"y":-0.3}
],
"c": [
{"s":"0 s","x":-50,"y":-0.1},{"s":"0 s","x":-45,"y":-0.1},{"s":"0 s","x":-40,"y":-0.08},{"s":"0 s","x":-35,"y":-0.05},{"s":"0 s","x":-30,"y":-0.05},{"s":"0 s","x":-25,"y":-0.05},{"s":"0 s","x":-20,"y":-0.08},{"s":"0 s","x":-15,"y":-0.2},{"s":"0 s","x":-10,"y":-0.8},{"s":"0 s","x":-5,"y":-1.5},{"s":"0 s","x":0,"y":-1.88},{"s":"0 s","x":5,"y":-1.55},{"s":"0 s","x":10,"y":-1.1},{"s":"0 s","x":15,"y":-0.7},{"s":"0 s","x":20,"y":-0.4},{"s":"0 s","x":25,"y":-0.15},{"s":"0 s","x":30,"y":0.05},{"s":"0 s","x":35,"y":0.4},{"s":"0 s","x":40,"y":0.62},{"s":"0 s","x":45,"y":0.65},{"s":"0 s","x":50,"y":0.55},{"s":"0 s","x":55,"y":0.42},{"s":"0 s","x":60,"y":0.33},{"s":"0 s","x":65,"y":0.25},{"s":"0 s","x":70,"y":0.2},{"s":"0 s","x":75,"y":0.15},{"s":"0 s","x":80,"y":0.05},{"s":"0 s","x":85,"y":-0.1},{"s":"0 s","x":90,"y":-0.2},{"s":"0 s","x":95,"y":-0.15},{"s":"0 s","x":100,"y":0.05},{"s":"0 s","x":105,"y":0.3},{"s":"0 s","x":110,"y":0.4},{"s":"0 s","x":115,"y":0.35},{"s":"0 s","x":120,"y":0.15},{"s":"0 s","x":125,"y":0.0},{"s":"0 s","x":130,"y":-0.1},{"s":"0 s","x":135,"y":-0.2},{"s":"0 s","x":140,"y":-0.23},{"s":"0 s","x":150,"y":-0.23},{"s":"0 s","x":160,"y":-0.25},{"s":"0 s","x":165,"y":-0.3},{"s":"0 s","x":170,"y":-0.35},{"s":"0 s","x":175,"y":-0.45},{"s":"0 s","x":180,"y":-0.5},{"s":"0 s","x":185,"y":-0.35},{"s":"0 s","x":190,"y":0.0},{"s":"0 s","x":195,"y":0.35},{"s":"0 s","x":200,"y":0.6},{"s":"0 s","x":205,"y":0.72},{"s":"0 s","x":210,"y":0.75},{"s":"0 s","x":215,"y":0.65},{"s":"0 s","x":220,"y":0.5},{"s":"0 s","x":225,"y":0.3},{"s":"0 s","x":230,"y":0.15},{"s":"0 s","x":235,"y":0.05},{"s":"0 s","x":240,"y":0.0},{"s":"0 s","x":245,"y":-0.05},{"s":"0 s","x":250,"y":-0.05},
{"s":"120 s","x":-50,"y":-0.05},{"s":"120 s","x":-40,"y":-0.05},{"s":"120 s","x":-30,"y":-0.05},{"s":"120 s","x":-20,"y":-0.05},{"s":"120 s","x":-15,"y":-0.15},{"s":"120 s","x":-10,"y":-0.45},{"s":"120 s","x":-5,"y":-0.8},{"s":"120 s","x":0,"y":-0.95},{"s":"120 s","x":5,"y":-0.65},{"s":"120 s","x":10,"y":-0.3},{"s":"120 s","x":15,"y":-0.15},{"s":"120 s","x":20,"y":-0.05},{"s":"120 s","x":30,"y":0.0},{"s":"120 s","x":40,"y":0.0},{"s":"120 s","x":50,"y":0.0},{"s":"120 s","x":60,"y":0.0},{"s":"120 s","x":70,"y":0.05},{"s":"120 s","x":80,"y":0.05},{"s":"120 s","x":90,"y":-0.05},{"s":"120 s","x":100,"y":-0.05},{"s":"120 s","x":110,"y":0.0},{"s":"120 s","x":120,"y":0.0},{"s":"120 s","x":130,"y":0.0},{"s":"120 s","x":140,"y":-0.05},{"s":"120 s","x":150,"y":-0.1},{"s":"120 s","x":160,"y":-0.15},{"s":"120 s","x":170,"y":-0.2},{"s":"120 s","x":180,"y":-0.2},{"s":"120 s","x":185,"y":-0.15},{"s":"120 s","x":190,"y":-0.05},{"s":"120 s","x":195,"y":0.1},{"s":"120 s","x":200,"y":0.2},{"s":"120 s","x":205,"y":0.25},{"s":"120 s","x":210,"y":0.25},{"s":"120 s","x":215,"y":0.2},{"s":"120 s","x":220,"y":0.15},{"s":"120 s","x":230,"y":0.05},{"s":"120 s","x":240,"y":0.0},{"s":"120 s","x":250,"y":0.0},
{"s":"300 s","x":-50,"y":0.1},{"s":"300 s","x":-40,"y":0.15},{"s":"300 s","x":-30,"y":0.2},{"s":"300 s","x":-25,"y":0.2},{"s":"300 s","x":-20,"y":0.15},{"s":"300 s","x":-15,"y":0.0},{"s":"300 s","x":-10,"y":-0.3},{"s":"300 s","x":-5,"y":-0.55},{"s":"300 s","x":0,"y":-0.6},{"s":"300 s","x":5,"y":-0.2},{"s":"300 s","x":10,"y":0.1},{"s":"300 s","x":15,"y":0.12},{"s":"300 s","x":20,"y":0.1},{"s":"300 s","x":30,"y":0.1},{"s":"300 s","x":40,"y":0.12},{"s":"300 s","x":50,"y":0.05},{"s":"300 s","x":60,"y":0.0},{"s":"300 s","x":70,"y":0.05},{"s":"300 s","x":80,"y":0.05},{"s":"300 s","x":90,"y":-0.1},{"s":"300 s","x":100,"y":-0.05},{"s":"300 s","x":110,"y":0.0},{"s":"300 s","x":120,"y":0.0},{"s":"300 s","x":130,"y":0.0},{"s":"300 s","x":140,"y":-0.05},{"s":"300 s","x":150,"y":-0.1},{"s":"300 s","x":160,"y":-0.15},{"s":"300 s","x":170,"y":-0.2},{"s":"300 s","x":180,"y":-0.2},{"s":"300 s","x":185,"y":-0.2},{"s":"300 s","x":190,"y":-0.05},{"s":"300 s","x":195,"y":0.1},{"s":"300 s","x":200,"y":0.2},{"s":"300 s","x":205,"y":0.25},{"s":"300 s","x":210,"y":0.28},{"s":"300 s","x":215,"y":0.25},{"s":"300 s","x":220,"y":0.15},{"s":"300 s","x":230,"y":0.1},{"s":"300 s","x":240,"y":0.05},{"s":"300 s","x":250,"y":0.0},
{"s":"600 s","x":-50,"y":0.05},{"s":"600 s","x":-40,"y":0.05},{"s":"600 s","x":-30,"y":0.05},{"s":"600 s","x":-20,"y":0.0},{"s":"600 s","x":-15,"y":-0.1},{"s":"600 s","x":-10,"y":-0.4},{"s":"600 s","x":-5,"y":-0.65},{"s":"600 s","x":0,"y":-0.75},{"s":"600 s","x":5,"y":-0.5},{"s":"600 s","x":10,"y":-0.25},{"s":"600 s","x":15,"y":-0.15},{"s":"600 s","x":20,"y":-0.1},{"s":"600 s","x":30,"y":-0.05},{"s":"600 s","x":40,"y":-0.05},{"s":"600 s","x":50,"y":0.0},{"s":"600 s","x":60,"y":0.05},{"s":"600 s","x":70,"y":0.05},{"s":"600 s","x":80,"y":0.0},{"s":"600 s","x":90,"y":-0.1},{"s":"600 s","x":100,"y":0.0},{"s":"600 s","x":110,"y":0.05},{"s":"600 s","x":120,"y":0.05},{"s":"600 s","x":130,"y":0.0},{"s":"600 s","x":140,"y":0.0},{"s":"600 s","x":150,"y":0.0},{"s":"600 s","x":160,"y":0.0},{"s":"600 s","x":170,"y":-0.05},{"s":"600 s","x":180,"y":-0.05},{"s":"600 s","x":190,"y":0.05},{"s":"600 s","x":200,"y":0.2},{"s":"600 s","x":210,"y":0.25},{"s":"600 s","x":220,"y":0.2},{"s":"600 s","x":230,"y":0.15},{"s":"600 s","x":240,"y":0.15},{"s":"600 s","x":250,"y":0.15},
{"s":"1200 s","x":-50,"y":0.0},{"s":"1200 s","x":-40,"y":0.0},{"s":"1200 s","x":-30,"y":0.05},{"s":"1200 s","x":-20,"y":0.0},{"s":"1200 s","x":-15,"y":-0.1},{"s":"1200 s","x":-10,"y":-0.4},{"s":"1200 s","x":-5,"y":-0.7},{"s":"1200 s","x":0,"y":-0.8},{"s":"1200 s","x":5,"y":-0.55},{"s":"1200 s","x":10,"y":-0.3},{"s":"1200 s","x":15,"y":-0.15},{"s":"1200 s","x":20,"y":-0.05},{"s":"1200 s","x":30,"y":0.0},{"s":"1200 s","x":40,"y":0.0},{"s":"1200 s","x":50,"y":0.0},{"s":"1200 s","x":60,"y":0.0},{"s":"1200 s","x":70,"y":0.05},{"s":"1200 s","x":80,"y":0.05},{"s":"1200 s","x":90,"y":0.0},{"s":"1200 s","x":100,"y":0.05},{"s":"1200 s","x":110,"y":0.1},{"s":"1200 s","x":120,"y":0.05},{"s":"1200 s","x":130,"y":0.0},{"s":"1200 s","x":140,"y":0.0},{"s":"1200 s","x":150,"y":0.0},{"s":"1200 s","x":160,"y":-0.05},{"s":"1200 s","x":170,"y":-0.05},{"s":"1200 s","x":180,"y":0.0},{"s":"1200 s","x":190,"y":0.1},{"s":"1200 s","x":200,"y":0.2},{"s":"1200 s","x":210,"y":0.2},{"s":"1200 s","x":220,"y":0.15},{"s":"1200 s","x":230,"y":0.05},{"s":"1200 s","x":240,"y":0.0},{"s":"1200 s","x":250,"y":-0.05},
{"s":"2400 s","x":-50,"y":0.25},{"s":"2400 s","x":-40,"y":0.22},{"s":"2400 s","x":-30,"y":0.2},{"s":"2400 s","x":-20,"y":0.2},{"s":"2400 s","x":-15,"y":0.1},{"s":"2400 s","x":-10,"y":-0.2},{"s":"2400 s","x":-5,"y":-0.45},{"s":"2400 s","x":0,"y":-0.55},{"s":"2400 s","x":5,"y":-0.35},{"s":"2400 s","x":10,"y":-0.15},{"s":"2400 s","x":15,"y":-0.05},{"s":"2400 s","x":20,"y":0.0},{"s":"2400 s","x":30,"y":0.1},{"s":"2400 s","x":40,"y":0.05},{"s":"2400 s","x":50,"y":0.0},{"s":"2400 s","x":60,"y":0.0},{"s":"2400 s","x":70,"y":0.05},{"s":"2400 s","x":80,"y":0.0},{"s":"2400 s","x":85,"y":-0.15},{"s":"2400 s","x":90,"y":-0.2},{"s":"2400 s","x":95,"y":-0.2},{"s":"2400 s","x":100,"y":-0.1},{"s":"2400 s","x":110,"y":0.0},{"s":"2400 s","x":120,"y":0.05},{"s":"2400 s","x":130,"y":0.05},{"s":"2400 s","x":140,"y":0.05},{"s":"2400 s","x":150,"y":0.1},{"s":"2400 s","x":160,"y":0.1},{"s":"2400 s","x":170,"y":0.1},{"s":"2400 s","x":180,"y":0.1},{"s":"2400 s","x":190,"y":0.15},{"s":"2400 s","x":200,"y":0.3},{"s":"2400 s","x":210,"y":0.35},{"s":"2400 s","x":220,"y":0.3},{"s":"2400 s","x":230,"y":0.2},{"s":"2400 s","x":240,"y":0.15},{"s":"2400 s","x":250,"y":0.1},
{"s":"3600 s","x":-50,"y":0.1},{"s":"3600 s","x":-40,"y":0.1},{"s":"3600 s","x":-30,"y":0.1},{"s":"3600 s","x":-20,"y":0.05},{"s":"3600 s","x":-15,"y":-0.05},{"s":"3600 s","x":-10,"y":-0.3},{"s":"3600 s","x":-5,"y":-0.55},{"s":"3600 s","x":0,"y":-0.65},{"s":"3600 s","x":5,"y":-0.4},{"s":"3600 s","x":10,"y":-0.2},{"s":"3600 s","x":15,"y":-0.1},{"s":"3600 s","x":20,"y":-0.05},{"s":"3600 s","x":30,"y":0.05},{"s":"3600 s","x":40,"y":-0.05},{"s":"3600 s","x":50,"y":-0.05},{"s":"3600 s","x":60,"y":-0.05},{"s":"3600 s","x":70,"y":0.0},{"s":"3600 s","x":80,"y":0.1},{"s":"3600 s","x":90,"y":0.0},{"s":"3600 s","x":100,"y":-0.05},{"s":"3600 s","x":110,"y":0.0},{"s":"3600 s","x":120,"y":0.0},{"s":"3600 s","x":130,"y":0.0},{"s":"3600 s","x":140,"y":0.0},{"s":"3600 s","x":150,"y":0.05},{"s":"3600 s","x":160,"y":0.05},{"s":"3600 s","x":170,"y":0.0},{"s":"3600 s","x":180,"y":0.05},{"s":"3600 s","x":190,"y":0.15},{"s":"3600 s","x":200,"y":0.25},{"s":"3600 s","x":210,"y":0.3},{"s":"3600 s","x":220,"y":0.2},{"s":"3600 s","x":230,"y":0.1},{"s":"3600 s","x":240,"y":0.05},{"s":"3600 s","x":250,"y":0.0}
]
},
"vconcat": [
{
 "width": 500, "height": 393,
 "title": {"text": "(a)"},
 "layer": [
  {"data": {"name": "a"}, "mark": {"type": "line", "interpolate": "monotone", "strokeWidth": 1.2},
   "encoding": {
    "x": {"field": "x", "type": "quantitative", "scale": {"domain": [-50, 250], "nice": false, "zero": false}, "axis": {"orient": "bottom", "title": "Position (microns)", "values": [-50, 0, 50, 100, 150, 200, 250], "labelPadding": 13, "titlePadding": 3}},
    "y": {"field": "y", "type": "quantitative", "scale": {"domain": [-10, 10], "nice": false}, "axis": {"orient": "left", "title": "Charge density (C/m³)", "values": [-10, -8, -6, -4, -2, 0, 2, 4, 6, 8, 10], "labelPadding": 11, "titlePadding": 4}},
    "color": {"field": "s", "type": "nominal", "scale": {"domain": ["0 s", "120 s", "300 s", "600 s", "1200 s", "2400 s", "3600 s"], "range": ["#000000", "#ff00ff", "#0000ff", "#00ffff", "#00ff00", "#ffff00", "#ff0000"]}, "legend": {"title": null, "legendX": 377, "legendY": 239}}
   }},
  {"data": {"name": "ea"}, "transform": [{"filter": "datum.e == 'L'"}], "mark": {"type": "rule", "color": "#3a3aff", "strokeDash": [5, 3], "strokeWidth": 1.3},
   "encoding": {
    "x": {"field": "pos", "type": "quantitative", "axis": {"orient": "top", "title": "Space Charge Decay (from 25kV), CT1 Wet 14d", "labels": false, "values": [-50, 0, 50, 100, 150, 200, 250], "titleFontWeight": "bold", "titleColor": "black", "titleFontSize": 15.7, "titlePadding": 2}},
    "y": {"datum": -10, "type": "quantitative", "axis": {"orient": "right", "title": null, "labels": false, "values": [-10, -8, -6, -4, -2, 0, 2, 4, 6, 8, 10]}},
    "y2": {"datum": 10}
   }},
  {"data": {"name": "ea"}, "transform": [{"filter": "datum.e == 'R'"}], "mark": {"type": "rule", "color": "#ff3a3a", "strokeDash": [5, 3], "strokeWidth": 1.3},
   "encoding": {
    "x": {"field": "pos", "type": "quantitative", "axis": null},
    "y": {"datum": -10, "type": "quantitative", "axis": null},
    "y2": {"datum": 10}
   }}
 ],
 "resolve": {"axis": {"x": "independent", "y": "independent"}}
},
{
 "width": 500, "height": 393,
 "title": {"text": "(b)"},
 "layer": [
  {"data": {"name": "b"}, "mark": {"type": "line", "interpolate": "monotone", "strokeWidth": 1.2},
   "encoding": {
    "x": {"field": "x", "type": "quantitative", "scale": {"domain": [-50, 250], "nice": false, "zero": false}, "axis": {"orient": "bottom", "title": "Position (microns)", "values": [-50, 0, 50, 100, 150, 200, 250], "labelPadding": 13, "titlePadding": 3}},
    "y": {"field": "y", "type": "quantitative", "scale": {"domain": [-10, 10], "nice": false}, "axis": {"orient": "left", "title": "Charge density (C/m³)", "values": [-10, -8, -6, -4, -2, 0, 2, 4, 6, 8, 10], "labelPadding": 11, "titlePadding": 4}},
    "color": {"field": "s", "type": "nominal", "scale": {"domain": ["0 s", "120 s", "300 s", "600 s", "1200 s", "2400 s", "3600 s"], "range": ["#000000", "#ff00ff", "#0000ff", "#00ffff", "#00ff00", "#ffff00", "#ff0000"]}, "legend": {"title": null, "legendX": 259, "legendY": 239}}
   }},
  {"data": {"name": "eb"}, "transform": [{"filter": "datum.e == 'L'"}], "mark": {"type": "rule", "color": "#3a3aff", "strokeDash": [5, 3], "strokeWidth": 1.3},
   "encoding": {
    "x": {"field": "pos", "type": "quantitative", "axis": {"orient": "top", "title": "Space Charge Decay (from 40kV), NS3 Dry 14d", "labels": false, "values": [-50, 0, 50, 100, 150, 200, 250], "titleFontWeight": "bold", "titleColor": "black", "titleFontSize": 15.7, "titlePadding": 2}},
    "y": {"datum": -10, "type": "quantitative", "axis": {"orient": "right", "title": null, "labels": false, "values": [-10, -8, -6, -4, -2, 0, 2, 4, 6, 8, 10]}},
    "y2": {"datum": 10}
   }},
  {"data": {"name": "eb"}, "transform": [{"filter": "datum.e == 'R'"}], "mark": {"type": "rule", "color": "#ff3a3a", "strokeDash": [5, 3], "strokeWidth": 1.3},
   "encoding": {
    "x": {"field": "pos", "type": "quantitative", "axis": null},
    "y": {"datum": -10, "type": "quantitative", "axis": null},
    "y2": {"datum": 10}
   }}
 ],
 "resolve": {"axis": {"x": "independent", "y": "independent"}}
},
{
 "width": 500, "height": 393,
 "title": {"text": "(c)"},
 "layer": [
  {"data": {"name": "c"}, "mark": {"type": "line", "interpolate": "monotone", "strokeWidth": 1.2},
   "encoding": {
    "x": {"field": "x", "type": "quantitative", "scale": {"domain": [-50, 250], "nice": false, "zero": false}, "axis": {"orient": "bottom", "title": "Position (microns)", "values": [-50, 0, 50, 100, 150, 200, 250], "labelPadding": 13, "titlePadding": 3}},
    "y": {"field": "y", "type": "quantitative", "scale": {"domain": [-10, 10], "nice": false}, "axis": {"orient": "left", "title": "Charge density (C/m³)", "values": [-10, -8, -6, -4, -2, 0, 2, 4, 6, 8, 10], "labelPadding": 11, "titlePadding": 4}},
    "color": {"field": "s", "type": "nominal", "scale": {"domain": ["0 s", "120 s", "300 s", "600 s", "1200 s", "2400 s", "3600 s"], "range": ["#000000", "#ff00ff", "#0000ff", "#00ffff", "#00ff00", "#ffff00", "#ff0000"]}, "legend": {"title": null, "legendX": 377, "legendY": 239}}
   }},
  {"data": {"name": "ec"}, "transform": [{"filter": "datum.e == 'L'"}], "mark": {"type": "rule", "color": "#3a3aff", "strokeDash": [5, 3], "strokeWidth": 1.3},
   "encoding": {
    "x": {"field": "pos", "type": "quantitative", "axis": {"orient": "top", "title": "Space Charge Decay (from 25kV), NS18 Wet 7d", "labels": false, "values": [-50, 0, 50, 100, 150, 200, 250], "titleFontWeight": "bold", "titleColor": "black", "titleFontSize": 15.7, "titlePadding": 2}},
    "y": {"datum": -10, "type": "quantitative", "axis": {"orient": "right", "title": null, "labels": false, "values": [-10, -8, -6, -4, -2, 0, 2, 4, 6, 8, 10]}},
    "y2": {"datum": 10}
   }},
  {"data": {"name": "ec"}, "transform": [{"filter": "datum.e == 'R'"}], "mark": {"type": "rule", "color": "#ff3a3a", "strokeDash": [5, 3], "strokeWidth": 1.3},
   "encoding": {
    "x": {"field": "pos", "type": "quantitative", "axis": null},
    "y": {"datum": -10, "type": "quantitative", "axis": null},
    "y2": {"datum": 10}
   }}
 ],
 "resolve": {"axis": {"x": "independent", "y": "independent"}}
}
],
"resolve": {"scale": {"color": "independent"}, "legend": {"color": "independent"}}
}
